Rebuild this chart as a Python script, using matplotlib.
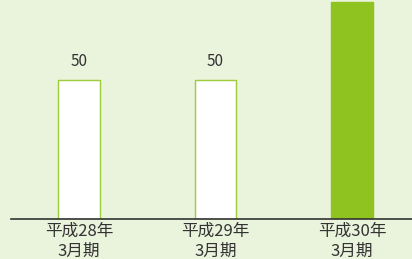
import numpy as np
import matplotlib.pyplot as plt

plt.rcParams['font.family'] = ['Noto Sans CJK JP', 'DejaVu Sans']

categories = ['平成28年\n3月期', '平成29年\n3月期', '平成30年\n3月期']
values = [50, 50, 78]
labels = ['50', '50', None]  # 3本目のラベルは画像の外

bg = '#eaf3dc'
green = '#8fc31f'

fig = plt.figure(figsize=(4.12, 2.59), dpi=100)
fig.patch.set_facecolor(bg)
ax = fig.add_axes([11 / 412, 40 / 259, 401 / 412, 219 / 259])
ax.set_facecolor(bg)

x = np.arange(len(categories))
faces = ['white', 'white', green]
edges = ['#9dcb3a', '#9dcb3a', green]
ax.bar(x, values, width=0.305, color=faces, edgecolor=edges, linewidth=1.0, zorder=2)

for xi, v, lab in zip(x, values, labels):
    if lab:
        ax.text(xi, v + 3.5, lab, ha='center', va='bottom', fontsize=11, color='#333333')

ax.set_xlim(-0.498, 2.44)
ax.set_ylim(0, 78.8)
ax.set_xticks(x)
ax.set_xticklabels(categories, fontsize=12, color='#333333', linespacing=1.2)
ax.tick_params(axis='x', length=0, pad=3)
ax.set_yticks([])
for s in ['top', 'right', 'left']:
    ax.spines[s].set_visible(False)
ax.spines['bottom'].set_color('#333333')
ax.spines['bottom'].set_linewidth(1.2)

fig.savefig('out.png', dpi=100, facecolor=bg)
